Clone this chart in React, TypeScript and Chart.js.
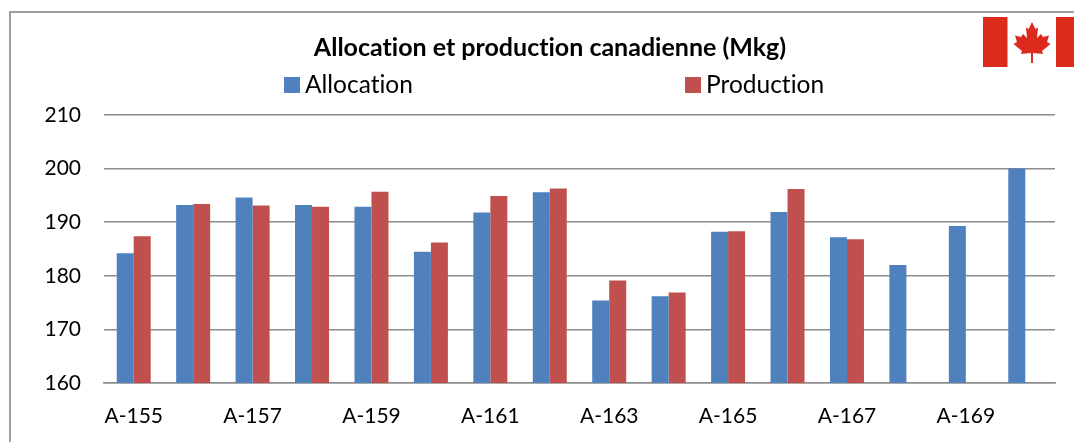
import React, { useEffect, useRef } from "react";
import { Chart, registerables } from "chart.js";

Chart.register(...registerables);

const categories = ["A-155","A-156","A-157","A-158","A-159","A-160","A-161","A-162","A-163","A-164","A-165","A-166","A-167","A-168","A-169","A-170"];
const allocation = [184.2,193.2,194.6,193.2,192.9,184.5,191.8,195.6,175.4,176.2,188.2,191.9,187.2,182,189.3,200];
const production = [187.4,193.4,193.1,192.9,195.7,186.2,194.9,196.3,179.1,176.9,188.3,196.2,186.8,null,null,null];
const FONT = "Lato, Carlito, Calibri, sans-serif";
const legendX = [284, 685];

const layoutPlugin = {
  id: "layoutTweaks",
  afterLayout(chart: any) {
    chart.titleBlock.left = 26;
    chart.titleBlock.right = 1074;
  },
  beforeDraw(chart: any) {
    chart.ctx.textRendering = "optimizeSpeed";
  },
  afterDraw(chart: any) {
    const { ctx } = chart;
    ctx.save();
    ctx.font = `24.5px ${FONT}`;
    ctx.textBaseline = "middle";
    ctx.textAlign = "left";
    chart.data.datasets.forEach((d: any, i: number) => {
      ctx.fillStyle = d.backgroundColor;
      ctx.fillRect(legendX[i], 77, 16, 16);
      ctx.fillStyle = "#000";
      ctx.fillText(d.label, legendX[i] + 21, 85);
    });
    ctx.restore();
  },
};

export default function App() {
  const ref = useRef<HTMLCanvasElement>(null);
  useEffect(() => {
    const chart = new Chart(ref.current!, {
      type: "bar",
      data: {
        labels: categories,
        datasets: [
          { label: "Allocation", data: allocation, backgroundColor: "#4F81BD", categoryPercentage: 0.572, barPercentage: 1 },
          { label: "Production", data: production, backgroundColor: "#C0504D", categoryPercentage: 0.572, barPercentage: 1 },
        ],
      },
      options: {
        animation: false,
        responsive: false,
        layout: { padding: { left: 12, right: 19, top: 0, bottom: 0 } },
        plugins: {
          legend: { display: false },
          tooltip: { enabled: false },
          title: {
            display: true,
            text: "Allocation et production canadienne (Mkg)",
            color: "#000",
            font: { family: FONT, size: 25, weight: "bold" },
            padding: { top: 33, bottom: 52 },
          },
        },
        scales: {
          x: {
            grid: { display: false },
            border: { color: "#8C8C8C", width: 1.5 },
            afterFit(s: any) { s.height = 59; },
            ticks: {
              autoSkip: false,
              maxRotation: 0,
              color: "#000",
              padding: 13,
              font: { family: FONT, size: 21 },
              callback(_v: any, i: number) { return i % 2 === 0 ? categories[i] : ""; },
            },
          },
          y: {
            min: 160,
            max: 210,
            afterFit(s: any) { s.width = 92; },
            border: { display: false },
            grid: { color: "#8C8C8C", lineWidth: 1.5, drawTicks: false },
            ticks: {
              stepSize: 10,
              color: "#000",
              padding: 23,
              font: { family: FONT, size: 21 },
            },
          },
        },
      },
      plugins: [layoutPlugin],
    } as any);
    return () => chart.destroy();
  }, []);
  return (
    <div style={{ position: "absolute", left: 0, top: 0, width: 1074, height: 442, background: "#fff", overflow: "hidden" }}>
      <canvas ref={ref} width={1074} height={442} style={{ display: "block" }} />
      <div style={{ position: "absolute", left: 9, top: 11, right: 0, bottom: 0, borderTop: "2px solid #A0A0A0", borderLeft: "2px solid #A0A0A0" }} />
      <svg style={{ position: "absolute", left: 983, top: 17 }} width={91} height={50} viewBox="0 0 91 50" aria-hidden="true">
        <rect width={91} height={50} fill="#fff" />
        <rect x={0} width={24.5} height={50} fill="#DC2A1C" />
        <rect x={73} width={18} height={50} fill="#DC2A1C" />
        <g transform="translate(49 0)" fill="#DC2A1C">
          <polygon points="0,5 -3.5,12 -6,10.5 -5,21 -9,17 -11,20 -17,18.5 -15,25 -18.5,27 -10,34 -11,37 -1,36 -1,46 1,46 1,36 11,37 10,34 18.5,27 15,25 17,18.5 11,20 9,17 5,21 6,10.5 3.5,12" />
        </g>
      </svg>
    </div>
  );
}
